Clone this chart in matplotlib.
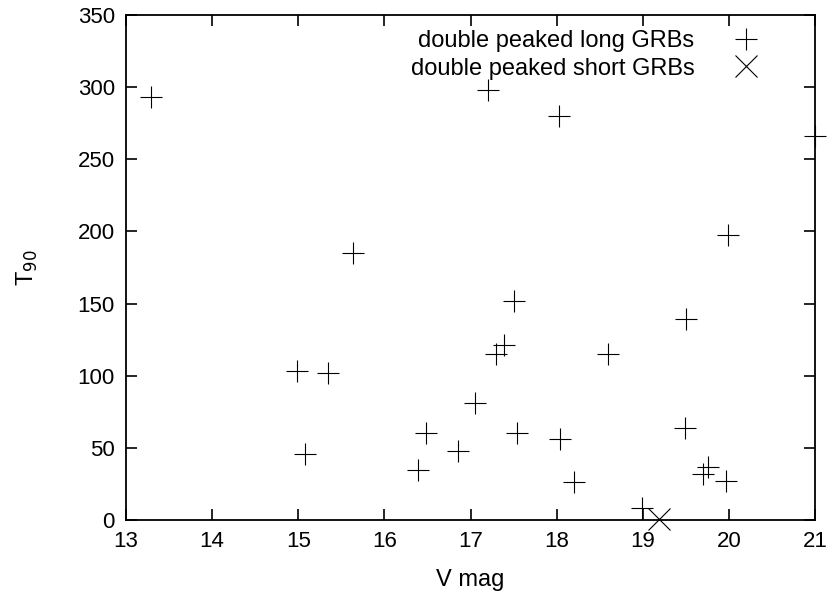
import matplotlib
matplotlib.use("Agg")
import matplotlib.pyplot as plt

plt.rcParams['font.family'] = ['Liberation Sans', 'DejaVu Sans']

# double peaked long GRBs: V mag vs T90
long_vmag = [13.29, 15.64, 17.20, 18.03, 21.00, 19.99, 14.99, 15.35, 15.08,
             17.05, 16.48, 16.39, 16.86, 17.50, 19.50, 17.30, 17.39, 18.60,
             17.54, 18.04, 18.20, 18.99, 19.49, 19.70, 19.76, 19.97]
long_t90 = [293, 185, 298, 280, 266, 197.5, 103, 102, 46,
            81, 60, 35, 48, 152, 139, 115, 121, 115,
            60, 56, 26, 8, 64, 32, 37, 27]

# double peaked short GRBs
short_vmag = [19.19]
short_t90 = [1]

fs_tick = 16
fs_text = 17

fig = plt.figure(figsize=(8.33, 5.99), dpi=100)
ax = fig.add_axes([126 / 833, 1 - 520 / 599, (815 - 126) / 833, (520 - 15) / 599])

ax.plot(long_vmag, long_t90, linestyle='none', marker='+', markersize=16,
        markeredgewidth=0.8, color='black', label='double peaked long GRBs',
        clip_on=False)
ax.plot(short_vmag, short_t90, linestyle='none', marker='x', markersize=16,
        markeredgewidth=0.8, color='black', label='double peaked short GRBs',
        clip_on=False)

ax.set_xlim(13, 21)
ax.set_ylim(0, 350)
ax.set_xticks(range(13, 22))
ax.set_yticks(range(0, 351, 50))

ax.tick_params(direction='in', length=8, width=1.2, top=True, right=True,
               labelsize=fs_tick, pad=8)
for s in ax.spines.values():
    s.set_linewidth(1.3)

ax.set_xlabel('V mag', fontsize=fs_text, va='center')
ax.xaxis.set_label_coords(0.5, -60 / 505)
ax.set_ylabel('T$_{90}$', fontsize=fs_text, va='center')
ax.yaxis.set_label_coords(-99 / 689, 0.5)

leg = ax.legend(loc='upper right', bbox_to_anchor=(0.943, 1.0), frameon=False,
                markerfirst=False, fontsize=fs_text, handlelength=1.2,
                handletextpad=1.6, labelspacing=0.22, borderaxespad=0.25)
for t in leg.get_texts():
    t.set_ha('right')

fig.savefig('out.png', dpi=100)
